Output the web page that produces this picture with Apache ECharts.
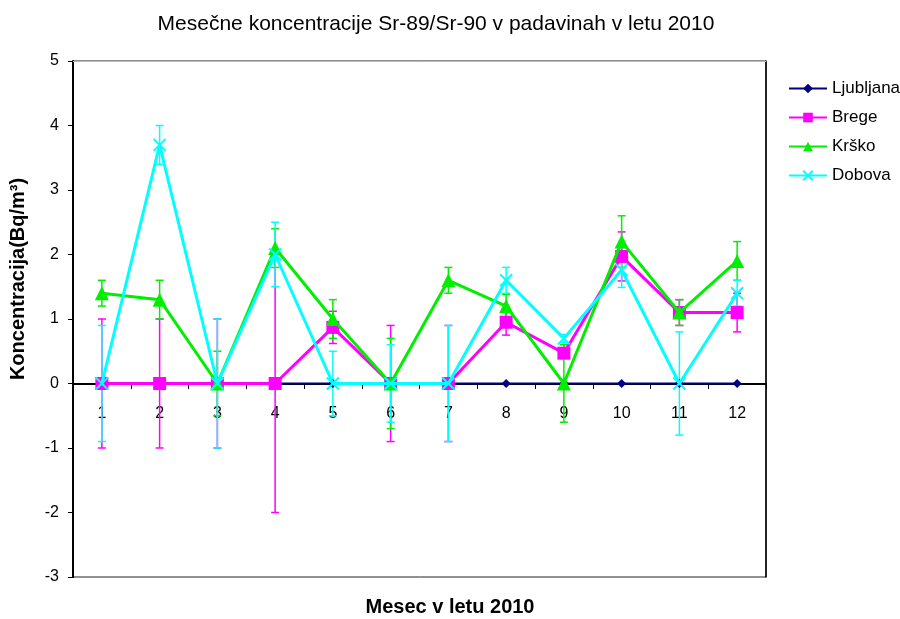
<!DOCTYPE html>
<html lang="sl">
<head>
    <meta charset="UTF-8">
    <title>Sr-89/Sr-90 v padavinah 2010</title>
    <script src="https://cdn.jsdelivr.net/npm/echarts@6.0.0/dist/echarts.min.js"></script>
    <style>
        html, body { margin: 0; padding: 0; background: #fff; }
        #main { width: 900px; height: 619px; }
    </style>
</head>
<body>
    <div id="main"></div>
    <script>
        // meseci
        var months = ['1', '2', '3', '4', '5', '6', '7', '8', '9', '10', '11', '12'];
        var yTicks = [-3, -2, -1, 0, 1, 2, 3, 4, 5];

        // koncentracije (Bq/m3) in negotovosti
        var ljubljana    = [0, 0, 0, 0, 0, 0, 0, 0, 0, 0, 0, 0];
        var brege        = [0, 0, 0, 0, 0.87, 0, 0, 0.95, 0.47, 1.97, 1.1, 1.1];
        var bregeErr     = [1, 1, 1, 2, 0.25, 0.9, 0.9, 0.2, 0.05, 0.38, 0.2, 0.3];
        var krsko        = [1.4, 1.3, 0, 2.1, 1.0, 0, 1.6, 1.2, 0, 2.2, 1.1, 1.9];
        var krskoErr     = [0.2, 0.3, 0.5, 0.3, 0.3, 0.7, 0.2, 0.18, 0.6, 0.4, 0.2, 0.3];
        var dobova       = [0, 3.7, 0, 2.0, 0, 0, 0, 1.6, 0.7, 1.76, 0, 1.4];
        var dobovaErr    = [0.9, 0.3, 1, 0.5, 0.5, 0.6, 0.9, 0.2, 0.06, 0.27, 0.8, 0.2];

        var FONT = '"Liberation Sans", Arial, sans-serif';

        function errData(vals, errs) {
            return vals.map(function (v, i) { return [i, v, errs[i]]; });
        }

        // navpicni error bar s kapicami
        function errBars(name, color, vals, errs) {
            return {
                name: name + ' err',
                type: 'custom',
                z: 1,
                silent: true,
                data: errData(vals, errs),
                renderItem: function (params, api) {
                    var x = api.value(0), v = api.value(1), e = api.value(2);
                    var top = api.coord([x, v + e]);
                    var bot = api.coord([x, v - e]);
                    var w = 4;
                    var st = { stroke: color, lineWidth: 1.5 };
                    return {
                        type: 'group',
                        children: [
                            { type: 'line', shape: { x1: top[0], y1: top[1], x2: bot[0], y2: bot[1] }, style: st },
                            { type: 'line', shape: { x1: top[0] - w, y1: top[1], x2: top[0] + w, y2: top[1] }, style: st },
                            { type: 'line', shape: { x1: bot[0] - w, y1: bot[1], x2: bot[0] + w, y2: bot[1] }, style: st }
                        ]
                    };
                }
            };
        }

        var chart = echarts.init(document.getElementById('main'));

        var option = {
            animation: false,
            backgroundColor: '#fff',
            textStyle: { fontFamily: FONT },
            title: {
                text: 'Mesečne koncentracije Sr-89/Sr-90 v padavinah v letu 2010',
                left: 431,
                textAlign: 'center',
                top: 9,
                textStyle: { fontFamily: FONT, fontSize: 21, fontWeight: 'normal', color: '#000' }
            },
            legend: {
                orient: 'vertical',
                left: 783,
                top: 75,
                itemGap: 12,
                itemWidth: 38,
                itemHeight: 12,
                textStyle: { fontFamily: FONT, fontSize: 17, color: '#000' },
                data: ['Ljubljana', 'Brege', 'Krško', 'Dobova']
            },
            grid: {
                left: 73, right: 134, top: 61, bottom: 42,
                show: true,
                borderColor: '#222',
                borderWidth: 1
            },
            graphic: [
                {
                    type: 'text',
                    x: 18, y: 279,
                    rotation: Math.PI / 2,
                    style: {
                        text: 'Koncentracija(Bq/m³)',
                        font: 'bold 20px ' + FONT,
                        fill: '#000',
                        align: 'center',
                        verticalAlign: 'middle'
                    }
                },
                {
                    type: 'text',
                    x: 450, y: 607,
                    style: {
                        text: 'Mesec v letu 2010',
                        font: 'bold 20px ' + FONT,
                        fill: '#000',
                        align: 'center',
                        verticalAlign: 'middle'
                    }
                }
            ],
            xAxis: [
                {
                    type: 'category',
                    data: months,
                    boundaryGap: true,
                    position: 'bottom',
                    // os lezi na nicli (3 enote nad dnom)
                    offset: -193,
                    axisLine: { onZero: false, lineStyle: { color: '#000', width: 2 } },
                    axisTick: { show: true, interval: 0, length: 5, lineStyle: { color: '#000' } },
                    axisLabel: { interval: 0, margin: 22, fontSize: 16, color: '#000', fontFamily: FONT },
                    splitLine: { show: false }
                },
                {
                    type: 'category',
                    data: months,
                    position: 'top',
                    axisLine: { onZero: false, lineStyle: { color: '#b8b8b8', width: 1 } },
                    axisTick: { show: false },
                    axisLabel: { show: false }
                }
            ],
            yAxis: [
                {
                    type: 'value',
                    min: yTicks[0],
                    max: yTicks[yTicks.length - 1],
                    interval: 1,
                    axisLine: { show: true, onZero: false, lineStyle: { color: '#000', width: 2 } },
                    axisTick: { show: true, length: 5, lineStyle: { color: '#000' } },
                    axisLabel: { margin: 14, fontSize: 16, color: '#000', fontFamily: FONT },
                    splitLine: { show: false }
                },
                {
                    type: 'value',
                    position: 'right',
                    min: yTicks[0],
                    max: yTicks[yTicks.length - 1],
                    interval: 1,
                    axisLine: { show: true, onZero: false, lineStyle: { color: '#000', width: 1.5 } },
                    axisTick: { show: false },
                    axisLabel: { show: false },
                    splitLine: { show: false }
                }
            ],
            series: [
                errBars('Brege', '#ff00ff', brege, bregeErr),
                errBars('Krško', '#00ee00', krsko, krskoErr),
                errBars('Dobova', '#00ffff', dobova, dobovaErr),
                {
                    name: 'Ljubljana',
                    type: 'line',
                    z: 2,
                    data: ljubljana,
                    symbol: 'diamond',
                    symbolSize: 9,
                    color: '#000080',
                    lineStyle: { color: '#000080', width: 2 },
                    itemStyle: { color: '#000080' }
                },
                {
                    name: 'Brege',
                    type: 'line',
                    z: 3,
                    data: brege,
                    symbol: 'rect',
                    symbolSize: 13,
                    color: '#ff00ff',
                    lineStyle: { color: '#ff00ff', width: 3 },
                    itemStyle: { color: '#ff00ff' }
                },
                {
                    name: 'Krško',
                    type: 'line',
                    z: 4,
                    data: krsko,
                    symbol: 'triangle',
                    symbolSize: 14,
                    color: '#00ee00',
                    lineStyle: { color: '#00ee00', width: 3 },
                    itemStyle: { color: '#00ee00' }
                },
                {
                    name: 'Dobova',
                    type: 'line',
                    z: 5,
                    data: dobova,
                    symbol: 'path://M0,0L10,10M10,0L0,10',
                    symbolSize: 12,
                    color: '#00ffff',
                    lineStyle: { color: '#00ffff', width: 3 },
                    itemStyle: { color: '#00ffff', borderColor: '#00ffff', borderWidth: 2 }
                }
            ]
        };

        chart.setOption(option);
    </script>
</body>
</html>
